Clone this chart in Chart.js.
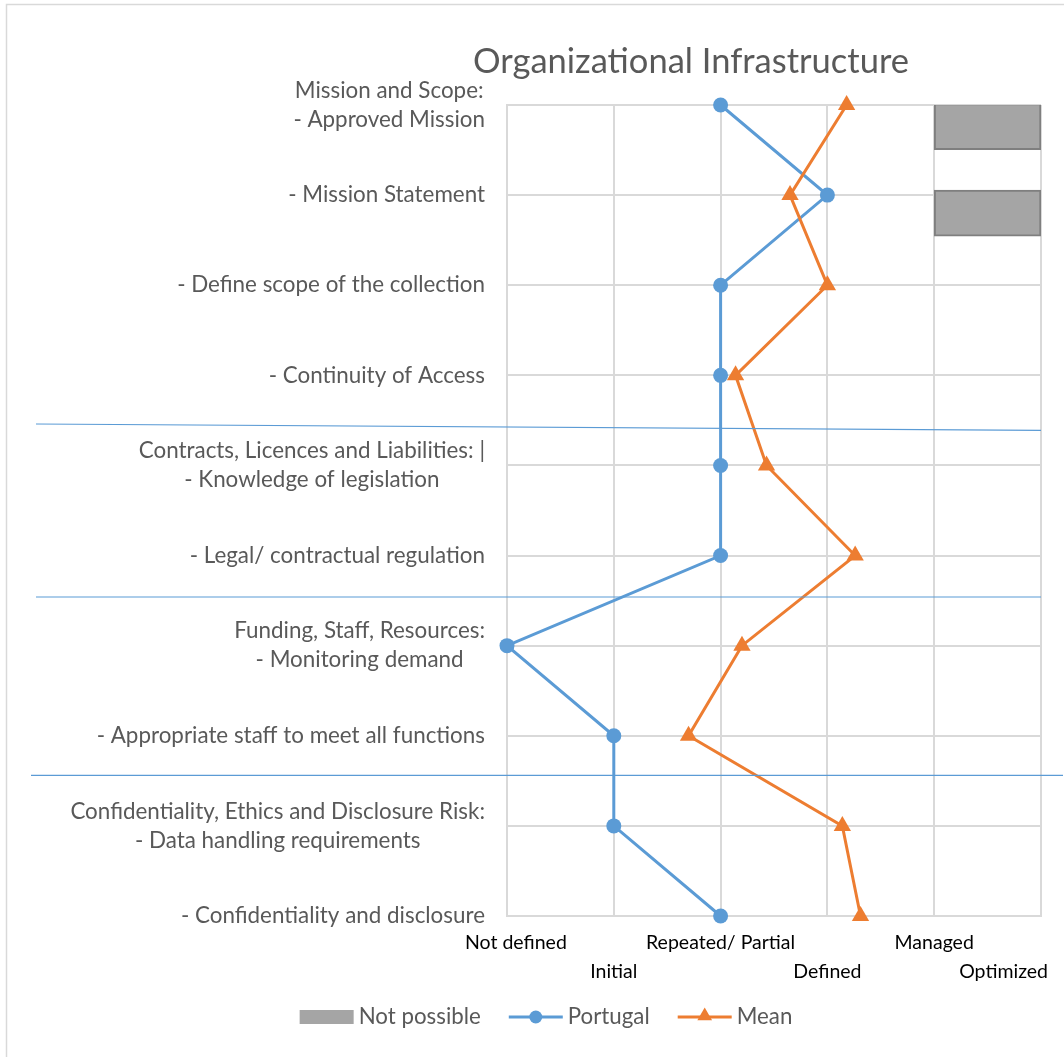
<!DOCTYPE html>
<html>
<head>
<meta charset="utf-8">
<script src="https://cdn.jsdelivr.net/npm/chart.js@4.4.1/dist/chart.umd.min.js"></script>
<style>
  html, body { margin: 0; padding: 0; background: #fff; }
</style>
</head>
<body>
<canvas id="chart" width="1064" height="1057"></canvas>
<script>
const TITLE = 'Organizational Infrastructure';

// rows, top to bottom (multi-line labels are arrays)
const CATEGORIES = [
  ['Mission and Scope:', '- Approved Mission'],
  ['- Mission Statement'],
  ['- Define scope of the collection'],
  ['- Continuity of Access'],
  ['Contracts, Licences and Liabilities: |', '- Knowledge of legislation'],
  ['- Legal/ contractual regulation'],
  ['Funding, Staff, Resources:', '- Monitoring demand'],
  ['- Appropriate staff to meet all functions'],
  ['Confidentiality, Ethics and Disclosure Risk:', '- Data handling requirements'],
  ['- Confidentiality and disclosure']
];

const LEVELS = ['Not defined', 'Initial', 'Repeated/ Partial', 'Defined', 'Managed', 'Optimized'];

const PORTUGAL = [2, 3, 2, 2, 2, 2, 0, 1, 1, 2];
const MEAN = [3.18, 2.65, 3.0, 2.14, 2.43, 3.26, 2.2, 1.7, 3.14, 3.31];

// "Not possible" blocks: row position and level range
const NOT_POSSIBLE_ROWS = [0.24, 1.2];
const NOT_POSSIBLE_RANGE = [4, 5];

// blue group separators, [row at left, row at right]
const SEPARATORS = [[3.54, 3.61], [5.46, 5.46], [7.44, 7.44]];

const COLORS = {
  portugal: '#5b9bd5',
  mean: '#ed7d31',
  block: '#a5a5a5',
  blockBorder: '#7f7f7f',
  grid: '#d9d9d9',
  text: '#595959'
};

const FONT = 'Lato, "Noto Sans", sans-serif';

const decorPlugin = {
  id: 'decor',
  beforeDraw(chart) {
    const ctx = chart.ctx;
    ctx.save();
    ctx.fillStyle = '#fff';
    ctx.fillRect(0, 0, chart.width, chart.height);
    ctx.strokeStyle = COLORS.grid;
    ctx.lineWidth = 1.5;
    ctx.strokeRect(6.5, 4.5, chart.width + 20, chart.height + 20);
    ctx.restore();
  },
  afterDraw(chart) {
    const ctx = chart.ctx;
    const xs = chart.scales.x;
    const ys = chart.scales.y;
    ctx.save();

    // title
    ctx.fillStyle = COLORS.text;
    ctx.font = '34.5px ' + FONT;
    ctx.textAlign = 'center';
    ctx.textBaseline = 'middle';
    ctx.fillText(TITLE, 691, 62);

    // row labels: block right-aligned, lines centred to each other
    ctx.font = '22.4px ' + FONT;
    const lineH = 29;
    CATEGORIES.forEach((lines, i) => {
      const yc = ys.getPixelForValue(i);
      const widths = lines.map(l => ctx.measureText(l).width);
      const maxW = Math.max(...widths);
      const right = xs.left - 22;
      const cx = right - maxW / 2;
      lines.forEach((l, j) => {
        const y = yc + (j - (lines.length - 1) / 2) * lineH;
        ctx.fillText(l, cx, y);
      });
    });

    // level labels, staggered on two rows
    ctx.fillStyle = '#000';
    ctx.font = '19.5px ' + FONT;
    LEVELS.forEach((lab, i) => {
      const w = ctx.measureText(lab).width;
      let x = xs.getPixelForValue(i);
      x = Math.min(x, chart.width - 16 - w / 2);
      x = Math.max(x, xs.left - 42 + w / 2);
      const y = i % 2 === 0 ? 943 : 972;
      ctx.fillText(lab, x, y);
    });

    // separators
    ctx.strokeStyle = COLORS.portugal;
    ctx.lineWidth = 1.2;
    SEPARATORS.forEach(([a, b], k) => {
      ctx.beginPath();
      ctx.moveTo(k === 2 ? 31 : 36, ys.getPixelForValue(a));
      ctx.lineTo(xs.right + (k === 2 ? 22 : 0), ys.getPixelForValue(b));
      ctx.stroke();
    });

    drawLegend(chart);
    ctx.restore();
  }
};

function drawLegend(chart) {
  const ctx = chart.ctx;
  ctx.font = '22.3px ' + FONT;
  ctx.textAlign = 'left';
  ctx.textBaseline = 'middle';
  const y = 1017;
  const items = [
    { text: 'Not possible', kind: 'box' },
    { text: 'Portugal', kind: 'line', color: COLORS.portugal, style: 'circle' },
    { text: 'Mean', kind: 'line', color: COLORS.mean, style: 'triangle' }
  ];
  const sampleW = 54, gap = 5, spacing = 28;
  const total = items.reduce((s, it) => s + sampleW + gap + ctx.measureText(it.text).width, 0) + spacing * (items.length - 1);
  let x = 546 - total / 2;
  items.forEach(it => {
    if (it.kind === 'box') {
      ctx.fillStyle = COLORS.block;
      ctx.fillRect(x, y - 7, sampleW, 14);
    } else {
      ctx.strokeStyle = it.color;
      ctx.lineWidth = 3;
      ctx.beginPath();
      ctx.moveTo(x, y);
      ctx.lineTo(x + sampleW, y);
      ctx.stroke();
      ctx.fillStyle = it.color;
      Chart.helpers.drawPoint(ctx, {
        pointStyle: it.style, radius: it.style === 'circle' ? 6.5 : 8.5, rotation: 0, borderWidth: 0
      }, x + sampleW / 2, it.style === 'triangle' ? y - 1 : y);
    }
    x += sampleW + gap;
    ctx.fillStyle = COLORS.text;
    ctx.fillText(it.text, x, y);
    x += ctx.measureText(it.text).width + spacing;
  });
}

const ctx = document.getElementById('chart').getContext('2d');

new Chart(ctx, {
  data: {
    datasets: [
      {
        type: 'bar',
        label: 'Not possible',
        data: NOT_POSSIBLE_ROWS.map(r => ({ y: r, x: NOT_POSSIBLE_RANGE })),
        backgroundColor: COLORS.block,
        borderColor: COLORS.blockBorder,
        borderWidth: 2,
        borderSkipped: false,
        barThickness: 46,
        order: 3
      },
      {
        type: 'line',
        label: 'Portugal',
        data: PORTUGAL.map((v, i) => ({ x: v, y: i })),
        borderColor: COLORS.portugal,
        backgroundColor: COLORS.portugal,
        borderWidth: 3,
        pointStyle: 'circle',
        pointRadius: 7.5,
        pointBorderWidth: 0,
        clip: false,
        order: 2
      },
      {
        type: 'line',
        label: 'Mean',
        data: MEAN.map((v, i) => ({ x: v, y: i })),
        borderColor: COLORS.mean,
        backgroundColor: COLORS.mean,
        borderWidth: 3,
        pointStyle: 'triangle',
        pointRadius: 10,
        pointBorderWidth: 0,
        clip: false,
        order: 1
      }
    ]
  },
  options: {
    responsive: false,
    animation: false,
    indexAxis: 'y',
    layout: { padding: { left: 507, right: 23, top: 105, bottom: 141 } },
    scales: {
      x: {
        type: 'linear',
        min: 0,
        max: 5,
        offset: false,
        ticks: { display: false, stepSize: 1 },
        grid: { color: COLORS.grid, lineWidth: 2, drawTicks: false, offset: false },
        border: { color: COLORS.grid, width: 2 }
      },
      y: {
        type: 'linear',
        reverse: true,
        min: 0,
        max: 9,
        offset: false,
        ticks: { display: false, stepSize: 1 },
        grid: { color: COLORS.grid, lineWidth: 2, drawTicks: false, offset: false },
        border: { color: COLORS.grid, width: 2 }
      }
    },
    plugins: {
      legend: { display: false },
      title: { display: false },
      tooltip: { enabled: false }
    }
  },
  plugins: [decorPlugin]
});
</script>
</body>
</html>
